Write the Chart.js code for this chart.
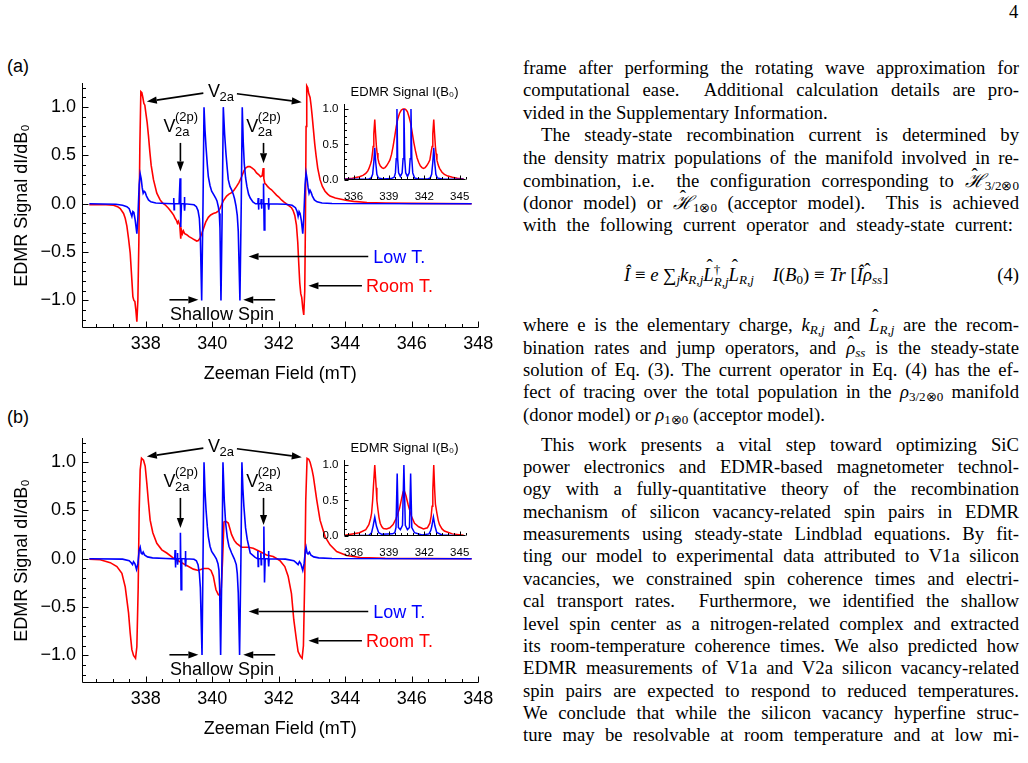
<!DOCTYPE html>
<html lang="en">
<head>
<meta charset="UTF-8">
<title>EDMR spectra</title>
<script src="https://cdn.jsdelivr.net/npm/chart.js"></script>
<style>
  body { margin: 0; background: #fff; }
  #page { position: relative; width: 1028px; height: 763px; overflow: hidden; background: #fff; }
  canvas { position: absolute; }
  .plabel { position: absolute; left: 7px; font: 18px "Liberation Sans", Arial, sans-serif; line-height: 22px; }
  .col { position: absolute; left: 523px; top: 0; width: 496px; height: 763px;
         font-family: "Liberation Serif", "Times New Roman", serif; font-size: 18.7px; color: #000; }
  .ln { position: absolute; left: 0; width: 496px; height: 22px; line-height: 22px; white-space: nowrap; }
  .j { text-align: justify; text-align-last: justify; white-space: normal; }
  .l { text-align: left; }
  .ind { text-indent: 18px; }
  sub, sup { font-size: 0.7em; line-height: 0; }
  sub { vertical-align: -0.25em; }
  sup { vertical-align: 0.45em; }
  .ss { display: inline-flex; flex-direction: column; vertical-align: 7px; font-size: 0.7em; line-height: 0.95; }
  .hat, .hats { position: relative; }
  .hat::after, .hats::after { content: "\02C6"; position: absolute; left: 0; right: 0; text-align: center;
                              text-align-last: center; font-style: normal; line-height: 1; }
  .hat::after { top: -0.38em; left: 0.12em; }
  .hats::after { top: -0.12em; }
  .hb { display: inline-block; text-align: center; text-align-last: center; line-height: 14px; text-indent: 0; }
  .hb b { display: block; height: 5px; line-height: 12px; font-weight: normal; font-style: normal; }
  .pn { position: absolute; left: 1009px; top: 1px; font-family: "Liberation Serif", serif; font-size: 18.7px; line-height: 22px; }
</style>
</head>
<body>
<div id="page">
  <div class="plabel" style="top:55px">(a)</div>
  <div class="plabel" style="top:406px">(b)</div>
  <div class="pn">4</div>

  <canvas id="mainA" width="500" height="335" style="left:0;top:60px"></canvas>
  <canvas id="insetA" width="165" height="130" style="left:315px;top:80px"></canvas>
  <canvas id="mainB" width="500" height="335" style="left:0;top:415px"></canvas>
  <canvas id="insetB" width="165" height="130" style="left:315px;top:436px"></canvas>

  <div class="col">
    <div class="ln j" style="top:57px">frame after performing the rotating wave approximation for</div>
    <div class="ln j" style="top:79.4px">computational ease.&nbsp; Additional calculation details are pro-</div>
    <div class="ln l" style="top:101.8px">vided in the Supplementary Information.</div>
    <div class="ln j ind" style="top:124.2px">The steady-state recombination current is determined by</div>
    <div class="ln j" style="top:146.6px">the density matrix populations of the manifold involved in re-</div>
    <div class="ln j" style="top:169px">combination, i.e.&nbsp; the configuration corresponding to <i class="hb"><b>ˆ</b>ℋ</i><sub>3/2⊗0</sub></div>
    <div class="ln j" style="top:191.4px">(donor model) or <i class="hb"><b>ˆ</b>ℋ</i><sub>1⊗0</sub> (acceptor model).&nbsp; This is achieved</div>
    <div class="ln j" style="top:213.8px;width:490px">with the following current operator and steady-state current:</div>

    <div class="ln" style="top:263.7px">
      <span style="position:absolute;left:101px"><i>Î</i> ≡ <i>e</i> ∑<sub><i>j</i></sub><i>k</i><sub><i>R</i>,<i>j</i></sub><i class="hat">L</i><span class="ss"><span>†</span><span><i>R</i>,<i>j</i></span></span><i class="hat">L</i><sub><i>R</i>,<i>j</i></sub>&emsp;<i>I</i>(<i>B</i><sub>0</sub>) ≡ <i>Tr</i> [<i>Î</i><i class="hats">ρ</i><sub><i>ss</i></sub>]</span>
      <span style="position:absolute;right:0">(4)</span>
    </div>

    <div class="ln j" style="top:314.3px">where e is the elementary charge, <i>k</i><sub><i>R</i>,<i>j</i></sub> and <i class="hat">L</i><sub><i>R</i>,<i>j</i></sub> are the recom-</div>
    <div class="ln j" style="top:336.6px">bination rates and jump operators, and <i class="hats">ρ</i><sub><i>ss</i></sub> is the steady-state</div>
    <div class="ln j" style="top:358.9px">solution of Eq. (3). The current operator in Eq. (4) has the ef-</div>
    <div class="ln j" style="top:381.2px">fect of tracing over the total population in the <i>ρ</i><sub>3/2⊗0</sub> manifold</div>
    <div class="ln l" style="top:403.5px">(donor model) or <i>ρ</i><sub>1⊗0</sub> (acceptor model).</div>

    <div class="ln j ind" style="top:433.7px">This work presents a vital step toward optimizing SiC</div>
    <div class="ln j" style="top:456px">power electronics and EDMR-based magnetometer technol-</div>
    <div class="ln j" style="top:478.4px">ogy with a fully-quantitative theory of the recombination</div>
    <div class="ln j" style="top:500.7px">mechanism of silicon vacancy-related spin pairs in EDMR</div>
    <div class="ln j" style="top:523.1px">measurements using steady-state Lindblad equations. By fit-</div>
    <div class="ln j" style="top:545.4px">ting our model to experimental data attributed to V1a silicon</div>
    <div class="ln j" style="top:567.8px">vacancies, we constrained spin coherence times and electri-</div>
    <div class="ln j" style="top:590.1px">cal transport rates.&nbsp; Furthermore, we identified the shallow</div>
    <div class="ln j" style="top:612.5px">level spin center as a nitrogen-related complex and extracted</div>
    <div class="ln j" style="top:634.8px">its room-temperature coherence times. We also predicted how</div>
    <div class="ln j" style="top:657.2px">EDMR measurements of V1a and V2a silicon vacancy-related</div>
    <div class="ln j" style="top:679.5px">spin pairs are expected to respond to reduced temperatures.</div>
    <div class="ln j" style="top:701.9px">We conclude that while the silicon vacancy hyperfine struc-</div>
    <div class="ln j" style="top:724.2px">ture may be resolvable at room temperature and at low mi-</div>
  </div>
</div>

<script>
// ---- data: [field (mT), signal] ----
const roomA = [[336.30,-0.01],[336.80,-0.01],[337.03,-0.015],[337.15,-0.03],[337.23,-0.05],[337.33,-0.10],[337.38,-0.15],[337.43,-0.23],[337.48,-0.36],[337.53,-0.51],
  [337.58,-0.79],[337.61,-0.96],[337.64,-1.00],[337.67,-1.01],[337.70,-1.10],[337.73,-1.22],[337.76,-1.00],[337.79,-0.40],[337.82,0.60],[337.85,1.16],
  [337.88,1.15],[337.91,1.10],[337.94,1.04],[337.97,1.02],[338.00,0.94],[338.04,0.84],[338.08,0.70],[338.12,0.54],[338.16,0.40],[338.23,0.25],
  [338.33,0.11],[338.43,0.04],[338.50,0.01],[338.58,-0.01],[338.68,-0.045],[338.78,-0.09],[338.84,-0.12],[338.88,-0.15],[338.92,-0.17],[338.95,-0.20],
  [338.98,-0.18],[339.02,-0.22],[339.05,-0.36],[339.07,-0.27],[339.10,-0.31],[339.13,-0.28],[339.17,-0.31],[339.23,-0.32],[339.30,-0.34],[339.38,-0.355],
  [339.45,-0.37],[339.53,-0.385],[339.58,-0.38],[339.63,-0.355],[339.68,-0.31],[339.73,-0.26],[339.80,-0.19],[339.88,-0.14],[339.95,-0.115],[340.03,-0.10],
  [340.12,-0.09],[340.18,-0.075],[340.23,-0.05],[340.28,-0.01],[340.33,0.03],[340.43,0.08],[340.50,0.10],[340.58,0.115],[340.65,0.14],[340.73,0.18],
  [340.80,0.22],[340.88,0.28],[340.95,0.34],[341.00,0.37],[341.07,0.385],[341.13,0.385],[341.20,0.37],[341.27,0.35],[341.33,0.32],[341.40,0.30],
  [341.45,0.28],[341.50,0.29],[341.53,0.37],[341.55,0.26],[341.58,0.21],[341.62,0.20],[341.66,0.18],[341.72,0.16],[341.78,0.145],[341.85,0.12],
  [341.93,0.09],[342.00,0.07],[342.08,0.04],[342.15,0.02],[342.23,0.0],[342.30,-0.02],[342.38,-0.04],[342.43,-0.07],[342.48,-0.12],[342.53,-0.22],
  [342.57,-0.40],[342.60,-0.62],[342.63,-0.82],[342.66,-0.93],[342.69,-0.97],[342.72,-1.08],[342.75,-1.15],[342.78,-0.90],[342.80,-0.20],[342.82,0.80],
  [342.84,1.22],[342.87,1.20],[342.90,1.14],[342.94,1.10],[342.97,1.02],[343.00,0.92],[343.04,0.77],[343.08,0.62],[343.12,0.50],[343.17,0.37],
  [343.24,0.25],[343.31,0.18],[343.39,0.13],[343.47,0.10],[343.54,0.08],[343.70,0.06],[343.84,0.05],[344.05,0.035],[344.25,0.025],[344.65,0.014],
  [345.20,0.008],[346.00,0.004],[347.80,0.0]];

const lowA = [[336.30,0],[337.10,-0.005],[337.30,-0.015],[337.43,-0.03],[337.50,-0.05],[337.55,-0.10],[337.58,-0.13],[337.61,-0.08],[337.64,-0.09],[337.68,-0.17],
  [337.73,-0.31],[337.76,-0.15],[337.80,0.20],[337.83,0.31],[337.86,0.26],[337.89,0.17],[337.92,0.11],[337.95,0.13],[337.98,0.12],[338.02,0.08],
  [338.08,0.04],[338.15,0.02],[338.30,0.008],[338.60,0.003],[338.82,0],[338.84,0.06],[338.85,-0.06],[338.86,0],[339.00,0],[339.03,0.265],
  [339.05,-0.24],[339.07,0],[339.15,0],[339.16,0.07],[339.17,-0.07],[339.18,0],[339.45,-0.01],[339.52,-0.03],[339.57,-0.07],[339.61,-0.15],
  [339.64,-0.35],[339.68,-1.0],[339.72,0],[339.75,1.0],[339.78,0.76],[339.81,0.59],[339.85,0.40],[339.88,0.28],[339.93,0.19],[339.98,0.13],
  [340.05,0.09],[340.10,0.06],[340.14,0.03],[340.18,-0.03],[340.21,-0.10],[340.23,-0.25],[340.26,-1.0],[340.30,0],[340.33,1.0],[340.37,0.72],
  [340.41,0.52],[340.45,0.36],[340.48,0.25],[340.53,0.18],[340.58,0.145],[340.63,0.10],[340.67,0.05],[340.71,-0.02],[340.75,-0.12],[340.78,-0.28],
  [340.83,-1.0],[340.87,0],[340.90,1.0],[340.93,0.64],[340.96,0.42],[341.00,0.27],[341.04,0.18],[341.09,0.10],[341.14,0.06],[341.22,0.02],
  [341.30,0],[341.37,0],[341.38,0.06],[341.39,-0.06],[341.40,0],[341.46,0],[341.47,0.05],[341.48,-0.05],[341.49,0],[341.53,0],
  [341.54,0.21],[341.56,-0.27],[341.58,0],[341.68,0],[341.69,0.06],[341.70,-0.06],[341.71,0],[342.20,-0.005],[342.40,-0.015],[342.50,-0.04],
  [342.55,-0.08],[342.58,-0.13],[342.61,-0.08],[342.64,-0.10],[342.68,-0.18],[342.72,-0.31],[342.75,-0.15],[342.79,0.20],[342.82,0.32],[342.85,0.26],
  [342.88,0.17],[342.91,0.11],[342.94,0.14],[342.97,0.12],[343.01,0.08],[343.07,0.04],[343.15,0.02],[343.30,0.008],[343.60,0.003],[347.80,0]];

const roomB = [[336.30,-0.005],[336.63,-0.01],[336.93,-0.04],[337.13,-0.08],[337.28,-0.15],[337.38,-0.29],[337.48,-0.56],[337.53,-0.77],[337.58,-0.94],[337.63,-1.0],
  [337.69,-1.03],[337.73,-0.91],[337.77,-0.30],[337.80,0.50],[337.83,0.92],[337.87,1.04],[337.93,1.02],[337.98,0.96],[338.03,0.78],[338.08,0.58],
  [338.13,0.40],[338.21,0.27],[338.33,0.16],[338.48,0.093],[338.63,0.06],[338.83,0.007],[339.03,-0.03],[339.23,-0.07],[339.43,-0.107],[339.58,-0.12],
  [339.73,-0.10],[339.88,-0.10],[339.96,-0.12],[340.03,-0.18],[340.08,-0.27],[340.11,-0.32],[340.18,-0.37],[340.23,-0.38],[340.27,-0.30],[340.31,0.0],
  [340.35,0.38],[340.40,0.39],[340.48,0.37],[340.58,0.25],[340.66,0.19],[340.73,0.16],[340.88,0.12],[341.08,0.12],[341.23,0.11],[341.43,0.076],
  [341.63,0.04],[341.83,0.024],[342.03,-0.017],[342.18,-0.08],[342.28,-0.18],[342.38,-0.36],[342.45,-0.63],[342.53,-0.84],[342.58,-0.96],[342.65,-1.01],
  [342.70,-1.03],[342.74,-0.90],[342.78,-0.20],[342.81,0.60],[342.85,1.04],[342.90,1.03],[342.94,1.0],[343.00,0.92],[343.04,0.85],[343.14,0.61],
  [343.24,0.40],[343.39,0.23],[343.54,0.145],[343.74,0.076],[344.04,0.035],[344.45,0.014],[345.20,0.004],[347.80,0.0]];

const lowB = [[336.30,0],[337.30,-0.003],[337.50,-0.02],[337.56,-0.04],[337.60,-0.06],[337.63,-0.03],[337.67,-0.05],[337.72,-0.11],[337.76,-0.05],[337.80,0.09],
  [337.83,0.12],[337.86,0.06],[337.89,0.05],[337.92,0.07],[337.96,0.04],[338.05,0.02],[338.20,0.01],[338.60,0.003],[338.87,0],[338.88,0.09],
  [338.89,-0.09],[338.90,0],[338.94,0],[338.95,0.06],[338.96,-0.06],[338.97,0],[339.03,0],[339.04,0.27],[339.06,-0.32],[339.08,0],
  [339.18,0],[339.19,0.08],[339.20,-0.08],[339.21,0],[339.45,-0.005],[339.52,-0.02],[339.57,-0.06],[339.61,-0.15],[339.64,-0.30],[339.69,-0.995],
  [339.72,0],[339.75,1.0],[339.78,0.70],[339.81,0.51],[339.85,0.33],[339.88,0.23],[339.93,0.13],[339.98,0.076],[340.05,0.04],[340.12,0],
  [340.17,-0.05],[340.20,-0.12],[340.22,-0.30],[340.25,-0.995],[340.29,0],[340.32,1.0],[340.36,0.60],[340.40,0.37],[340.45,0.22],[340.50,0.13],
  [340.58,0.06],[340.66,0],[340.72,-0.06],[340.75,-0.15],[340.78,-0.35],[340.82,-0.995],[340.86,0],[340.89,1.0],[340.92,0.72],[340.95,0.54],
  [341.00,0.32],[341.05,0.20],[341.14,0.06],[341.28,0.017],[341.36,0],[341.37,0.08],[341.38,-0.08],[341.39,0],[341.45,0],[341.46,0.06],
  [341.47,-0.06],[341.48,0],[341.53,0],[341.55,0.335],[341.57,-0.245],[341.59,0],[341.68,0],[341.69,0.08],[341.70,-0.08],[341.71,0],
  [342.20,-0.003],[342.45,-0.02],[342.52,-0.04],[342.58,-0.06],[342.62,-0.03],[342.66,-0.05],[342.72,-0.12],[342.76,-0.05],[342.80,0.09],[342.82,0.12],
  [342.85,0.06],[342.88,0.05],[342.92,0.07],[342.96,0.04],[343.05,0.02],[343.20,0.01],[343.60,0.003],[347.80,0]];

// integrated signal I(B0), insets
const insetRoomA = [[335.27,0.014],[335.9,0.025],[336.5,0.047],[336.8,0.065],[337.04,0.094],[337.2,0.125],[337.3,0.16],[337.45,0.23],[337.53,0.28],[337.62,0.40],
  [337.66,0.47],[337.72,0.65],[337.80,0.85],[337.87,0.65],[337.94,0.47],[338.0,0.38],[338.07,0.30],[338.16,0.24],[338.26,0.20],[338.4,0.175],
  [338.53,0.164],[338.67,0.175],[338.8,0.20],[338.95,0.24],[339.08,0.28],[339.22,0.36],[339.35,0.47],[339.5,0.62],[339.62,0.75],[339.75,0.86],
  [339.9,0.94],[340.05,0.985],[340.2,1.0],[340.35,1.0],[340.47,0.985],[340.57,0.96],[340.7,0.89],[340.84,0.80],[340.98,0.66],[341.12,0.52],
  [341.25,0.41],[341.39,0.31],[341.52,0.25],[341.66,0.20],[341.8,0.175],[341.93,0.164],[342.07,0.175],[342.2,0.20],[342.35,0.24],[342.47,0.28],
  [342.58,0.40],[342.66,0.47],[342.72,0.65],[342.80,0.85],[342.87,0.65],[342.94,0.47],[343.0,0.37],[343.07,0.28],[343.18,0.21],[343.29,0.164],
  [343.5,0.11],[343.7,0.08],[344.0,0.055],[344.38,0.038],[344.8,0.025],[345.33,0.014]];

const insetLowA = [[335.27,0.01],[337.3,0.014],[337.5,0.03],[337.62,0.08],[337.72,0.25],[337.80,0.455],[337.88,0.25],[337.98,0.08],[338.1,0.03],[338.5,0.015],
  [339.2,0.02],[339.45,0.04],[339.55,0.10],[339.62,0.30],[339.68,1.0],[339.74,0.30],[339.82,0.10],[339.97,0.05],[340.12,0.10],[340.2,0.30],
  [340.27,1.0],[340.34,0.30],[340.42,0.10],[340.57,0.05],[340.72,0.10],[340.8,0.30],[340.87,1.0],[340.94,0.30],[341.02,0.10],[341.17,0.03],
  [341.5,0.015],[342.3,0.014],[342.5,0.03],[342.62,0.08],[342.72,0.25],[342.80,0.455],[342.88,0.25],[342.98,0.08],[343.1,0.03],[343.5,0.015],
  [345.33,0.01]];

const insetRoomB = [[335.27,0.01],[336.5,0.046],[337.04,0.09],[337.3,0.16],[337.45,0.25],[337.53,0.32],[337.62,0.50],[337.68,0.68],[337.80,1.0],[337.92,0.68],
  [337.98,0.50],[338.07,0.37],[338.16,0.26],[338.26,0.18],[338.4,0.13],[338.53,0.105],[338.8,0.10],[339.08,0.115],[339.35,0.16],[339.62,0.25],
  [339.9,0.39],[340.08,0.53],[340.2,0.62],[340.27,0.65],[340.36,0.61],[340.44,0.57],[340.63,0.44],[340.9,0.28],[341.17,0.18],[341.52,0.13],
  [341.93,0.10],[342.26,0.115],[342.47,0.18],[342.58,0.28],[342.66,0.42],[342.72,0.64],[342.80,1.0],[342.88,0.64],[342.94,0.45],[343.07,0.32],
  [343.18,0.22],[343.29,0.16],[343.5,0.10],[343.7,0.07],[344.38,0.03],[345.33,0.01]];

const insetLowB = [[335.27,0],[337.3,0.01],[337.53,0.046],[337.66,0.14],[337.80,0.266],[337.94,0.14],[338.13,0.046],[338.4,0.023],[339.3,0.03],[339.5,0.046],
  [339.6,0.12],[339.7,0.88],[339.8,0.12],[339.97,0.09],[340.15,0.15],[340.27,1.0],[340.39,0.15],[340.57,0.09],[340.74,0.12],[340.84,0.88],
  [340.94,0.12],[341.17,0.046],[341.8,0.015],[342.4,0.03],[342.55,0.08],[342.64,0.14],[342.77,0.266],[342.9,0.14],[343.05,0.05],[343.5,0.015],
  [345.33,0]];

const mainXTicks = [338, 340, 342, 344, 346, 348];
const mainYTicks = [-1, -0.5, 0, 0.5, 1];
const insetXTicks = [336, 339, 342, 345];
const insetYTicks = [0, 0.5, 1];

const SANS = '"Liberation Sans", Arial, Helvetica, sans-serif';
const BLUE = '#0000ff', RED = '#ff0000';

const toXY = arr => arr.map(p => ({ x: p[0], y: p[1] }));
const fmt = v => (Math.abs(v) < 1e-9 ? 0 : v).toFixed(1).replace('-', '\u2212');
const setTicks = vals => scale => { scale.ticks = vals.map(v => ({ value: v })); };

function arrow(ctx, x1, y1, x2, y2) {
  const a = Math.atan2(y2 - y1, x2 - x1), L = 10, W = 3.6;
  const bx = x2 - L * Math.cos(a), by = y2 - L * Math.sin(a);
  ctx.beginPath(); ctx.moveTo(x1, y1); ctx.lineTo(bx, by); ctx.stroke();
  ctx.beginPath();
  ctx.moveTo(x2, y2);
  ctx.lineTo(bx + W * Math.sin(a), by - W * Math.cos(a));
  ctx.lineTo(bx - W * Math.sin(a), by + W * Math.cos(a));
  ctx.closePath(); ctx.fill();
}

// axis lines + inward major/minor ticks (Mathematica style)
const axisTicks = {
  id: 'axisTicks',
  afterDraw(chart, args, o) {
    const { ctx, chartArea: a } = chart;
    const x = chart.scales.x, y = chart.scales.y;
    const L = Math.round(a.left) + 0.5, B = Math.round(a.bottom) - 0.5;
    const isMajor = (s, v) => s.ticks.some(t => Math.abs(t.value - v) < 1e-6);
    ctx.save();
    ctx.strokeStyle = '#000'; ctx.lineWidth = 1;
    ctx.beginPath();
    ctx.moveTo(L, a.top); ctx.lineTo(L, B); ctx.lineTo(a.right, B);
    for (let i = Math.ceil(x.min / o.xStep - 1e-6); i * o.xStep <= x.max + 1e-6; i++) {
      const v = i * o.xStep, px = Math.round(x.getPixelForValue(v)) + 0.5;
      ctx.moveTo(px, B); ctx.lineTo(px, B - (isMajor(x, v) ? o.major : o.minor));
    }
    for (let i = Math.ceil(y.min / o.yStep - 1e-6); i * o.yStep <= y.max + 1e-6; i++) {
      const v = i * o.yStep, py = Math.round(y.getPixelForValue(v)) + 0.5;
      ctx.moveTo(L, py); ctx.lineTo(L + (isMajor(y, v) ? o.major : o.minor), py);
    }
    ctx.stroke();
    ctx.restore();
  }
};

function vLabel(ctx, px, py, sup) {
  ctx.font = '18px ' + SANS;
  ctx.fillText('V', px, py);
  const w = ctx.measureText('V').width - 0.5;
  ctx.font = '13px ' + SANS;
  ctx.fillText('2a', px + w, py + 4);
  if (sup) ctx.fillText(sup, px + w, py - 10.5);
}

// labels and arrows placed in data coordinates
const notes = {
  id: 'notes',
  afterDraw(chart, args, o) {
    const { ctx } = chart;
    const X = v => chart.scales.x.getPixelForValue(v), Y = v => chart.scales.y.getPixelForValue(v);
    ctx.save();
    ctx.fillStyle = '#000'; ctx.strokeStyle = '#000'; ctx.lineWidth = 1.6;
    ctx.textAlign = 'left'; ctx.textBaseline = 'alphabetic';

    vLabel(ctx, X(339.87), Y(1.103));
    arrow(ctx, X(339.73), Y(1.145), X(338.03), Y(1.058));
    arrow(ctx, X(340.74), Y(1.138), X(342.69), Y(1.052));

    vLabel(ctx, X(338.53), Y(0.748), '(2p)');
    vLabel(ctx, X(341.02), Y(0.748), '(2p)');
    arrow(ctx, X(339.04), Y(0.63), X(339.04), Y(o.leftEnd));
    arrow(ctx, X(341.54), Y(0.63), X(341.54), Y(o.rightEnd));

    ctx.font = '18px ' + SANS;
    arrow(ctx, X(344.69), Y(-0.545), X(341.09), Y(-0.545));
    arrow(ctx, X(344.50), Y(-0.848), X(342.89), Y(-0.848));
    ctx.fillStyle = BLUE; ctx.fillText('Low T.', X(344.84), Y(-0.613));
    ctx.fillStyle = RED; ctx.fillText('Room T.', X(344.62), Y(-0.913));

    ctx.fillStyle = '#000';
    arrow(ctx, X(338.71), Y(-0.993), X(339.58), Y(-0.993));
    arrow(ctx, X(341.89), Y(-0.993), X(340.93), Y(-0.993));
    ctx.textAlign = 'center';
    ctx.fillText('Shallow Spin', X(340.29), Y(-1.207));
    ctx.restore();
  }
};

function line(label, data, color, width) {
  return { label: label, data: toXY(data), borderColor: color, borderWidth: width,
           pointRadius: 0, tension: 0, fill: false };
}

function mainChart(id, low, room, noteOpts) {
  return new Chart(document.getElementById(id), {
    type: 'line',
    data: { datasets: [line('Low T.', low, BLUE, 1.6), line('Room T.', room, RED, 1.6)] },
    options: {
      responsive: false, animation: false, events: [],
      layout: { padding: { top: 23, right: 21.7, left: 0, bottom: 0 } },
      plugins: {
        legend: { display: false }, tooltip: { enabled: false },
        axisTicks: { xStep: 0.5, yStep: 0.1, major: 6, minor: 3.5 },
        notes: noteOpts
      },
      scales: {
        x: {
          type: 'linear', min: 336.08, max: 348,
          afterBuildTicks: setTicks(mainXTicks),
          afterFit: s => { s.height = 67; },
          grid: { display: false, drawTicks: false }, border: { display: false },
          ticks: { color: '#000', font: { family: SANS, size: 18 }, padding: 5.5, maxRotation: 0, autoSkip: false,
                   callback: v => String(v) },
          title: { display: true, text: 'Zeeman Field (mT)', color: '#000', font: { family: SANS, size: 18 },
                   padding: { top: 0, bottom: 10 } }
        },
        y: {
          type: 'linear', min: -1.285, max: 1.25,
          afterBuildTicks: setTicks(mainYTicks),
          afterFit: s => { s.width = 82; },
          grid: { display: false, drawTicks: false }, border: { display: false },
          ticks: { color: '#000', font: { family: SANS, size: 18 }, padding: 6, autoSkip: false, callback: v => fmt(v) },
          title: { display: true, text: 'EDMR Signal dI/dB\u2080', color: '#000', font: { family: SANS, size: 18 },
                   padding: { top: 10.9, bottom: 0 } }
        }
      }
    },
    plugins: [axisTicks, notes]
  });
}

function insetChart(id, low, room) {
  return new Chart(document.getElementById(id), {
    type: 'line',
    data: { datasets: [line('Low T.', low, BLUE, 1.5), line('Room T.', room, RED, 1.5)] },
    options: {
      responsive: false, animation: false, events: [],
      layout: { padding: { top: 0, right: 9.5, left: 0, bottom: 0 } },
      plugins: {
        legend: { display: false }, tooltip: { enabled: false },
        title: { display: true, text: 'EDMR Signal I(B\u2080)', color: '#000', fullSize: false,
                 font: { family: SANS, size: 13, weight: 'normal' }, padding: { top: 4.7, bottom: 3.7 } },
        axisTicks: { xStep: 0.5, yStep: 0.1, major: 4, minor: 2.5 }
      },
      scales: {
        x: {
          type: 'linear', min: 335.15, max: 345.5,
          afterBuildTicks: setTicks(insetXTicks),
          afterFit: s => { s.height = 30; },
          grid: { display: false, drawTicks: false }, border: { display: false },
          ticks: { color: '#000', font: { family: SANS, size: 11.5 }, padding: 10, maxRotation: 0, autoSkip: false,
                   callback: v => String(v) }
        },
        y: {
          type: 'linear', min: 0, max: 1.07,
          afterBuildTicks: setTicks(insetYTicks),
          afterFit: s => { s.width = 28.5; },
          grid: { display: false, drawTicks: false }, border: { display: false },
          ticks: { color: '#000', font: { family: SANS, size: 11.5 }, padding: 5, autoSkip: false, callback: v => fmt(v) }
        }
      }
    },
    plugins: [axisTicks]
  });
}

mainChart('mainA', lowA, roomA, { leftEnd: 0.334, rightEnd: 0.42 });
insetChart('insetA', insetLowA, insetRoomA);
mainChart('mainB', lowB, roomB, { leftEnd: 0.318, rightEnd: 0.35 });
insetChart('insetB', insetLowB, insetRoomB);
</script>
</body>
</html>
